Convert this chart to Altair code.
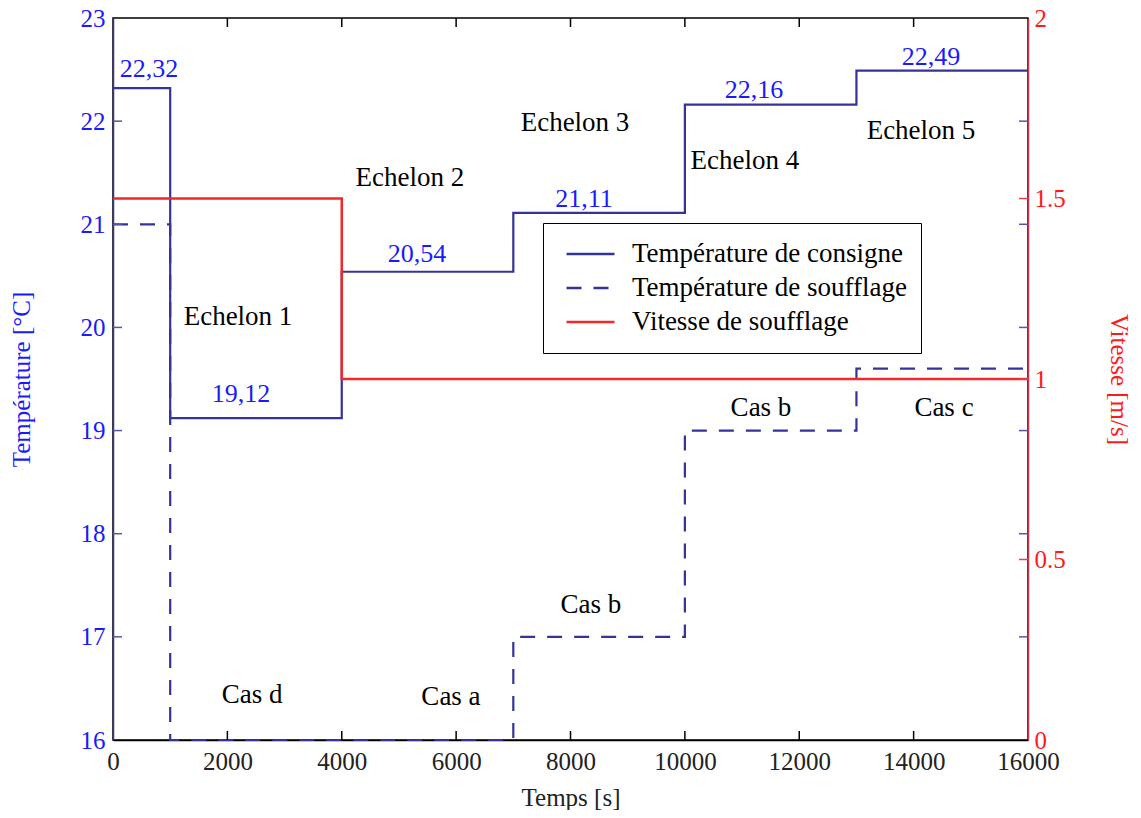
import altair as alt
import pandas as pd

# ---- data ----
t_consigne = [0, 1000, 4000, 7000, 10000, 13000, 16000]
v_consigne = [22.32, 19.12, 20.54, 21.11, 22.16, 22.49, 22.49]
t_soufflage = [0, 1000, 7000, 10000, 13000, 16000]
v_soufflage = [21, 16, 17, 19, 19.6, 19.6]
t_vitesse = [0, 4000, 16000]
v_vitesse = [1.5, 1.0, 1.0]

series = ["Température de consigne", "Température de soufflage", "Vitesse de soufflage"]
series_colors = ["#333399", "#333399", "#f02828"]
series_dashes = [[1, 0], [15, 12], [1, 0]]

ann_text = ["Echelon 1", "Echelon 2", "Echelon 3", "Echelon 4", "Echelon 5",
            "Cas d", "Cas a", "Cas b", "Cas b", "Cas c"]
ann_t = [2186, 5193, 8079, 11051, 14129, 2431, 5910, 8358, 11331, 14531]
ann_y = [20.10, 21.45, 21.98, 21.61, 21.90, 16.44, 16.42, 17.31, 19.22, 19.22]

val_text = ["22,32", "19,12", "20,54", "21,11", "22,16", "22,49"]
val_t = [630, 2238, 5316, 8236, 11208, 14304]
val_y = [22.51, 19.35, 20.71, 21.25, 22.30, 22.62]

x_ticks = [0, 2000, 4000, 6000, 8000, 10000, 12000, 14000, 16000]
temp_ticks = [16, 17, 18, 19, 20, 21, 22, 23]
speed_ticks = [0, 0.5, 1, 1.5, 2]

W, H = 915, 722
FONT = "Liberation Serif"
BLUE_TXT = "#1a1aff"
RED_TXT = "#ff1a1a"

temp_df = pd.concat([
    pd.DataFrame({"t": t_consigne, "temp": v_consigne, "serie": series[0]}),
    pd.DataFrame({"t": t_soufflage, "temp": v_soufflage, "serie": series[1]}),
])
speed_df = pd.DataFrame({"t": t_vitesse, "vitesse": v_vitesse, "serie": series[2]})
ann_df = pd.DataFrame({"t": ann_t, "temp": ann_y, "txt": ann_text})
val_df = pd.DataFrame({"t": val_t, "temp": val_y, "txt": val_text})
xt_df = pd.DataFrame({"t": x_ticks[1:-1]})
tt_df = pd.DataFrame({"temp": temp_ticks[1:-1]})
st_df = pd.DataFrame({"vitesse": speed_ticks[1:-1]})

xscale = alt.Scale(domain=[0, 16000], nice=False, zero=False)
tscale = alt.Scale(domain=[16, 23], nice=False, zero=False)
sscale = alt.Scale(domain=[0, 2], nice=False, zero=False)

xaxis = alt.Axis(values=x_ticks, title="Temps [s]", format="d", ticks=False,
                 domainColor="black", domainWidth=1.5, labelColor="#222222",
                 labelFont=FONT, labelFontSize=25, titleFont=FONT, titleFontSize=25,
                 titleFontWeight="normal", titleColor="#222222", labelPadding=9,
                 titlePadding=11, grid=False, labelFlush=False)
taxis = alt.Axis(values=temp_ticks, title="Température [°C]", ticks=False, format="d",
                 domainColor="#333399", domainWidth=1.5, labelColor=BLUE_TXT,
                 labelFont=FONT, labelFontSize=25, titleFont=FONT, titleFontSize=25,
                 titleFontWeight="normal", titleColor=BLUE_TXT, labelPadding=8,
                 titlePadding=46, grid=False, labelFlush=False)
saxis = alt.Axis(values=speed_ticks, title="Vitesse [m/s]", orient="right", ticks=False,
                 domainColor="#c33a55", domainWidth=1.5, labelColor=RED_TXT,
                 labelFont=FONT, labelFontSize=25, titleFont=FONT, titleFontSize=25,
                 titleFontWeight="normal", titleColor=RED_TXT, labelPadding=6,
                 titlePadding=40, grid=False, labelFlush=False, format="~g")

legend = alt.Legend(title=None, orient="none", legendX=430, legendY=205,
                    symbolType="stroke", symbolSize=2304, symbolStrokeWidth=2.5,
                    symbolOffset=8, clipHeight=34, labelLimit=600,
                    labelFont=FONT, labelFontSize=27, labelColor="black",
                    labelOffset=16, padding=14, strokeColor="black",
                    fillColor="white", rowPadding=0)
color = alt.Color("serie:N", scale=alt.Scale(domain=series, range=series_colors), legend=legend)
dash = alt.StrokeDash("serie:N", scale=alt.Scale(domain=series, range=series_dashes), legend=legend)

X = alt.X("t:Q", scale=xscale, axis=xaxis)

temp_lines = alt.Chart(temp_df).mark_line(interpolate="step-after", strokeWidth=2.2).encode(
    x=X, y=alt.Y("temp:Q", scale=tscale, axis=taxis), color=color, strokeDash=dash,
    detail="serie:N")
ann = alt.Chart(ann_df).mark_text(font=FONT, fontSize=27, color="black").encode(
    x=alt.X("t:Q", scale=xscale), y=alt.Y("temp:Q", scale=tscale), text="txt:N")
vals = alt.Chart(val_df).mark_text(font=FONT, fontSize=26, color=BLUE_TXT).encode(
    x=alt.X("t:Q", scale=xscale), y=alt.Y("temp:Q", scale=tscale), text="txt:N")
xt_bottom = alt.Chart(xt_df).mark_rule(color="black", strokeWidth=1.5).encode(
    x=alt.X("t:Q", scale=xscale), y=alt.value(H), y2=alt.value(H - 9))
xt_top = alt.Chart(xt_df).mark_rule(color="black", strokeWidth=1.5).encode(
    x=alt.X("t:Q", scale=xscale), y=alt.value(0), y2=alt.value(9))
tt_left = alt.Chart(tt_df).mark_rule(color="#5555aa", strokeWidth=1.5).encode(
    y=alt.Y("temp:Q", scale=tscale), x=alt.value(0), x2=alt.value(9))
tt_right = alt.Chart(tt_df).mark_rule(color="#5555aa", strokeWidth=1.5).encode(
    y=alt.Y("temp:Q", scale=tscale), x=alt.value(W - 9), x2=alt.value(W))

temp_group = alt.layer(temp_lines, xt_bottom, xt_top, tt_left, tt_right, ann, vals)

speed_line = alt.Chart(speed_df).mark_line(interpolate="step-after", strokeWidth=2.5).encode(
    x=alt.X("t:Q", scale=xscale), y=alt.Y("vitesse:Q", scale=sscale, axis=saxis),
    color=color, strokeDash=dash)
st_right = alt.Chart(st_df).mark_rule(color="#e04050", strokeWidth=1.5).encode(
    y=alt.Y("vitesse:Q", scale=sscale), x=alt.value(W - 9), x2=alt.value(W))
speed_group = alt.layer(speed_line, st_right)

chart = alt.layer(temp_group, speed_group).resolve_scale(y="independent").properties(
    width=W, height=H, padding={"left": 105, "top": 10, "right": 105, "bottom": 70},
    autosize=alt.AutoSizeParams(type="none"), background="white"
).configure_view(stroke="black", strokeWidth=1.5)

chart.save("out.html", embed_options={"renderer": "svg", "actions": False})
